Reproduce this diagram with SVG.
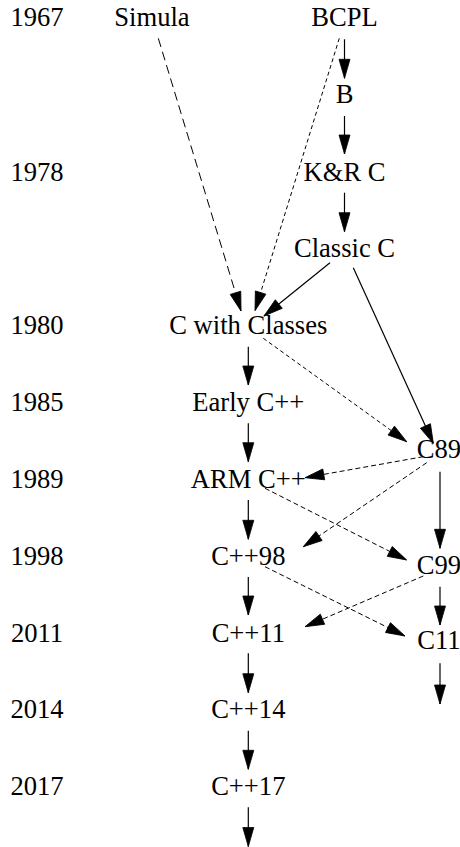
<svg xmlns="http://www.w3.org/2000/svg" width="460" height="847" viewBox="0 0 460 847">
<style>
.t text{font-family:"Times New Roman",Times,"Liberation Serif",Tinos,"Nimbus Roman","Nimbus Roman No9 L","Noto Serif","DejaVu Serif",FreeSerif,serif;font-size:26.6px;fill:#000;text-anchor:middle}
.e{fill:none;stroke:#000;stroke-width:1.2}
.d1{stroke-dasharray:9,5;stroke-width:1}
.d2{stroke-dasharray:4,3;stroke-width:1}
.d3{stroke-dasharray:5,3;stroke-width:1}
</style>
<defs>
<marker id="ah" markerUnits="userSpaceOnUse" markerWidth="20" markerHeight="12" refX="19" refY="5.5" orient="auto" overflow="visible">
<path d="M0,0 L19,5.5 L0,11 z" fill="#000" stroke="#000" stroke-width="0.8"/>
</marker>
</defs>
<rect width="460" height="847" fill="#fff"/>
<g id="edges">
<path class="e" marker-end="url(#ah)" d="M344.5,39.3 V78.3"/>
<path class="e" marker-end="url(#ah)" d="M344.5,116 V154"/>
<path class="e" marker-end="url(#ah)" d="M344.5,192.7 V231.7"/>
<path class="e" marker-end="url(#ah)" d="M330,262.7 L264,316"/>
<path class="e" marker-end="url(#ah)" d="M353.3,267.7 L433.3,443.3"/>
<path class="e d1" marker-end="url(#ah)" d="M158.3,38.3 L241,311"/>
<path class="e d2" marker-end="url(#ah)" d="M339.3,38.3 L255,310.7"/>
<path class="e" marker-end="url(#ah)" d="M248.3,346.7 V385"/>
<path class="e d2" marker-end="url(#ah)" d="M263.3,338.3 L406.7,441.7"/>
<path class="e" marker-end="url(#ah)" d="M248.3,423.3 V461.7"/>
<path class="e d3" marker-end="url(#ah)" d="M423.3,456.7 L305,477.7"/>
<path class="e d3" marker-end="url(#ah)" d="M426.7,462.7 L303.3,546.7"/>
<path class="e" marker-end="url(#ah)" d="M440,471.7 V548.3"/>
<path class="e" marker-end="url(#ah)" d="M248.3,500 V539.3"/>
<path class="e d3" marker-end="url(#ah)" d="M265,488.3 L406.7,560"/>
<path class="e" marker-end="url(#ah)" d="M248.3,577 V615"/>
<path class="e d3" marker-end="url(#ah)" d="M265,566.7 L405,636"/>
<path class="e d3" marker-end="url(#ah)" d="M423.3,576 L305,626.7"/>
<path class="e" marker-end="url(#ah)" d="M440,586.7 V625"/>
<path class="e" marker-end="url(#ah)" d="M440,663.3 V704"/>
<path class="e" marker-end="url(#ah)" d="M248.3,653.3 V692.7"/>
<path class="e" marker-end="url(#ah)" d="M248.3,730.7 V769.3"/>
<path class="e" marker-end="url(#ah)" d="M248.3,807.3 V846.5"/>
</g>
<g class="t">
<g id="years">
<g id="y1967"><text x="37" y="26">1967</text></g>
<g id="y1978"><text x="37" y="181">1978</text></g>
<g id="y1980"><text x="37" y="333.5">1980</text></g>
<g id="y1985"><text x="37" y="411">1985</text></g>
<g id="y1989"><text x="37" y="488">1989</text></g>
<g id="y1998"><text x="37" y="565">1998</text></g>
<g id="y2011"><text x="37" y="642">2011</text></g>
<g id="y2014"><text x="37" y="718">2014</text></g>
<g id="y2017"><text x="37" y="795">2017</text></g>
</g>
<g id="Simula"><text x="152" y="26">Simula</text></g>
<g id="BCPL"><text x="344.5" y="26">BCPL</text></g>
<g id="B"><text x="344.5" y="103.3">B</text></g>
<g id="KRC"><text x="344.5" y="181">K&amp;R C</text></g>
<g id="ClassicC"><text x="344.5" y="257.3">Classic C</text></g>
<g id="CwC"><text x="248.3" y="333.7">C with Classes</text></g>
<g id="EarlyCpp"><text x="248.3" y="411">Early C++</text></g>
<g id="ARMCpp"><text x="248.3" y="487.5">ARM C++</text></g>
<g id="Cpp98"><text x="248.3" y="564.5">C++98</text></g>
<g id="Cpp11"><text x="248.3" y="641.7">C++11</text></g>
<g id="Cpp14"><text x="248.3" y="718.3">C++14</text></g>
<g id="Cpp17"><text x="248.3" y="794.5">C++17</text></g>
<g id="C89"><text x="439" y="458.3">C89</text></g>
<g id="C99"><text x="439" y="574">C99</text></g>
<g id="C11"><text x="439" y="649.3">C11</text></g>
</g>
</svg>
